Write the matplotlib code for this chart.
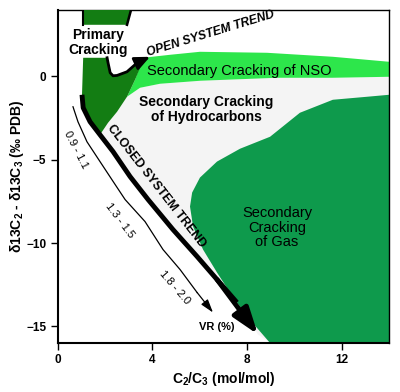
import numpy as np
import matplotlib
matplotlib.use("Agg")
import matplotlib.pyplot as plt
from matplotlib.patches import Polygon

plt.rcParams['font.family'] = ['Liberation Sans', 'DejaVu Sans']
plt.rcParams['mathtext.default'] = 'regular'

# -------------------------
# region outlines (x = C2/C3, y = delta13C2 - delta13C3)
# -------------------------
# top stub of primary cracking (above the label)
primary_top_x = [1.08, 3.14, 2.93, 1.08]
primary_top_y = [4.2, 4.2, 3.1, 3.1]
# main body of primary cracking (below the label)
primary_x = [1.08, 2.09, 2.13, 2.22, 2.34, 2.51, 2.93, 3.27, 3.61, 3.27, 2.93, 2.51, 2.13, 1.79, 1.37, 1.08, 1.03]
primary_y = [1.12, 1.12, 0.82, 0.22, 0.04, 0.06, 0.28, 0.70, 0.95, -0.20, -1.22, -2.12, -2.78, -3.50, -2.72, -1.88, -1.10]

nso_top_x = [3.61, 4.75, 6.01, 8.84, 11.62, 14.0]
nso_top_y = [1.12, 1.30, 1.48, 1.42, 1.18, 0.88]
nso_bot_x = [14.0, 11.62, 9.26, 6.01, 4.32, 3.48, 2.93, 3.27]
nso_bot_y = [-0.02, -0.08, -0.08, -0.26, -0.44, -0.68, -1.22, -0.20]

gas_x = [14.0, 13.06, 11.62, 10.23, 8.97, 7.70, 6.73, 6.01, 5.68, 5.59, 5.72, 6.14, 6.73, 7.28, 8.00, 8.97, 14.0]
gas_y = [-1.10, -1.22, -1.40, -2.18, -3.62, -4.34, -5.11, -6.07, -6.97, -7.81, -9.01, -10.39, -11.77, -12.97, -14.41, -16.0, -16.0]

closed_x = [1.03, 1.08, 1.37, 1.79, 2.34, 3.06, 3.82, 4.87, 5.89, 6.73, 7.57, 8.46]
closed_y = [-1.10, -1.88, -2.72, -3.50, -4.51, -6.01, -7.39, -9.19, -10.81, -12.19, -13.57, -15.49]

vr_x = [0.65, 0.86, 1.24, 1.79, 2.43, 2.85, 3.69, 4.45, 5.17, 5.89, 6.56]
vr_y = [-1.82, -2.72, -3.92, -5.11, -6.49, -7.39, -8.71, -10.39, -11.59, -12.97, -14.17]

open_x = [2.09, 2.13, 2.22, 2.34, 2.51, 2.93, 3.36, 3.90]
open_y = [1.12, 0.82, 0.22, 0.04, 0.06, 0.28, 0.82, 1.18]

vr_labels = ['0.9 - 1.1', '1.3 - 1.5', '1.8 - 2.0']
vr_label_x = [0.78, 2.64, 4.96]
vr_label_y = [-4.39, -8.66, -12.67]
vr_label_rot = [-63, -53, -49]

xticks = [0, 4, 8, 12]
yticks = [0, -5, -10, -15]

c_primary = '#137d13'
c_nso = '#2de64b'
c_gas = '#0e9a4c'
c_hc = '#f4f4f4'

fig = plt.figure(figsize=(4.0, 3.92), dpi=100)
ax = fig.add_axes([0.144, 0.125, 0.829, 0.85])

# secondary cracking of hydrocarbons (light grey background)
hc_x = closed_x[3:] + [9.0, 14.0] + nso_bot_x[:-1] + [2.51, 2.13]
hc_y = closed_y[3:] + [-16.0, -16.0] + nso_bot_y[:-1] + [-2.12, -2.78]
ax.add_patch(Polygon(np.column_stack([hc_x, hc_y]), closed=True, fc=c_hc, ec='none', zorder=1))

ax.add_patch(Polygon(np.column_stack([nso_top_x + nso_bot_x, nso_top_y + nso_bot_y]),
                     closed=True, fc=c_nso, ec='none', zorder=2))
ax.add_patch(Polygon(np.column_stack([primary_x, primary_y]), closed=True, fc=c_primary, ec='none', zorder=3))
ax.add_patch(Polygon(np.column_stack([primary_top_x, primary_top_y]), closed=True, fc=c_primary,
                     ec='none', zorder=3))
ax.add_patch(Polygon(np.column_stack([gas_x, gas_y]), closed=True, fc=c_gas, ec='none', zorder=2))

# outline of primary cracking stub
ax.plot(primary_top_x[:1] + primary_top_x[3:], primary_top_y[:1] + primary_top_y[3:], color='black', lw=1.5, zorder=4)
ax.plot(primary_top_x[1:3], primary_top_y[1:3], color='black', lw=1.8, zorder=4)

# closed system trend
ax.plot(closed_x[:-1], closed_y[:-1], color='black', lw=3.5, solid_capstyle='butt', zorder=5)
ax.annotate('', xy=(closed_x[-1], closed_y[-1]), xytext=(closed_x[-3], closed_y[-3]),
            arrowprops=dict(arrowstyle='-|>,head_length=1.6,head_width=0.55', lw=3.5, color='black',
                            shrinkA=0, shrinkB=0), zorder=5)

# VR line
ax.plot(vr_x[:-1], vr_y[:-1], color='black', lw=0.9, zorder=5)
ax.annotate('', xy=(vr_x[-1], vr_y[-1]), xytext=(vr_x[-2], vr_y[-2]),
            arrowprops=dict(arrowstyle='-|>,head_length=0.8,head_width=0.25', lw=0.9, color='black',
                            shrinkA=0, shrinkB=0), zorder=5)

# open system trend
ax.plot(open_x[:-1], open_y[:-1], color='black', lw=2.0, zorder=5)
ax.annotate('', xy=(open_x[-1], open_y[-1]), xytext=(open_x[-2], open_y[-2]),
            arrowprops=dict(arrowstyle='-|>,head_length=0.9,head_width=0.4', lw=2.0, color='black',
                            shrinkA=0, shrinkB=0), zorder=5)

# labels
ax.text(1.71, 2.02, 'Primary\nCracking', ha='center', va='center', fontsize=10, fontweight='bold',
        linespacing=1.1, zorder=6)
ax.text(6.48, 2.56, 'OPEN SYSTEM TREND', ha='center', va='center', fontsize=8.7, fontweight='bold',
        style='italic', rotation=17, zorder=6)
ax.text(7.66, 0.34, 'Secondary Cracking of NSO', ha='center', va='center', fontsize=10.5, zorder=6)
ax.text(6.27, -2.0, 'Secondary Cracking\nof Hydrocarbons', ha='center', va='center', fontsize=10,
        fontweight='bold', linespacing=1.1, zorder=6)
ax.text(9.26, -9.07, 'Secondary\nCracking\nof Gas', ha='center', va='center', fontsize=10.5,
        linespacing=1.05, zorder=6)
ax.text(4.16, -6.61, 'CLOSED SYSTEM TREND', ha='center', va='center', fontsize=8.9, fontweight='bold',
        rotation=-52, rotation_mode='anchor', zorder=6)
for lab, lx, ly, rot in zip(vr_labels, vr_label_x, vr_label_y, vr_label_rot):
    ax.text(lx, ly, lab, ha='center', va='center', fontsize=8, rotation=rot, rotation_mode='anchor', zorder=6)
ax.text(6.73, -15.06, 'VR (%)', ha='center', va='center', fontsize=8, fontweight='bold', zorder=6)

ax.set_xlim(0, 14)
ax.set_ylim(-16, 4)
ax.set_xticks(xticks)
ax.set_yticks(yticks)
ax.tick_params(direction='out', length=5, width=1, labelsize=8.5, pad=3)
for lab in ax.get_xticklabels() + ax.get_yticklabels():
    lab.set_fontweight('bold')
for sp in ax.spines.values():
    sp.set_linewidth(1.0)
ax.spines['bottom'].set_linewidth(1.5)
ax.spines['left'].set_linewidth(1.5)

ax.set_xlabel('C$_2$/C$_3$ (mol/mol)', fontsize=10, fontweight='bold', labelpad=3)
ax.set_ylabel('\u03b413C$_2$ - \u03b413C$_3$ (\u2030 PDB)', fontsize=10, fontweight='bold', labelpad=0.5)

plt.savefig('out.png', dpi=100)
plt.close()
